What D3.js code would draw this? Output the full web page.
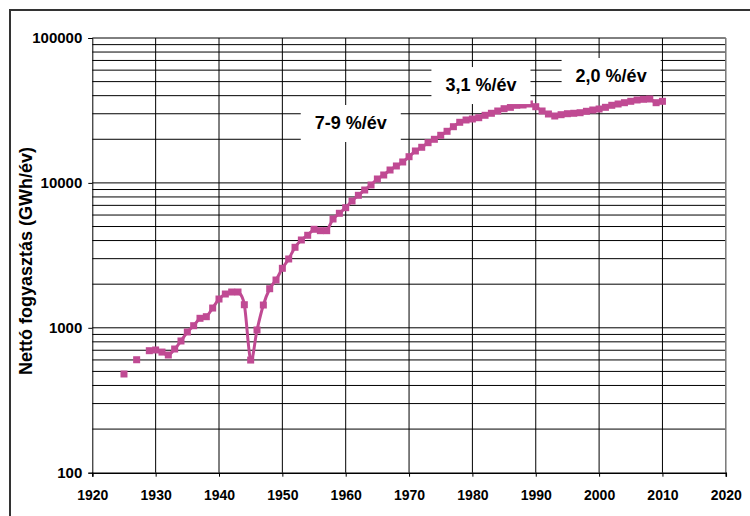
<!DOCTYPE html>
<html>
<head>
<meta charset="utf-8">
<script src="https://cdn.jsdelivr.net/npm/d3@7"></script>
<style>
  body { margin: 0; background: #fff; }
  svg { display: block; }
  text { font-family: Arial, "Liberation Sans", sans-serif; font-weight: bold; fill: #000; }
</style>
</head>
<body>
<svg id="chart" width="750" height="516"></svg>
<script>
// ---- Data ----
const years = [1925,1926,1927,1928,1929,1930,1931,1932,1933,1934,1935,1936,1937,1938,1939,
  1940,1941,1942,1943,1944,1945,1946,1947,1948,1949,1950,1951,1952,1953,1954,1955,1956,1957,1958,1959,
  1960,1961,1962,1963,1964,1965,1966,1967,1968,1969,1970,1971,1972,1973,1974,1975,1976,1977,1978,1979,
  1980,1981,1982,1983,1984,1985,1986,1987,1988,1989,1990,1991,1992,1993,1994,1995,1996,1997,1998,1999,
  2000,2001,2002,2003,2004,2005,2006,2007,2008,2009,2010];
const consumption = [480,null,602,null,695,703,680,649,714,811,936,1034,1163,1193,1369,
  1580,1711,1766,1766,1443,599,966,1436,1861,2137,2574,2985,3594,4036,4350,4785,4680,4680,5636,6170,
  6745,7503,8212,8932,9672,10640,11338,12274,13084,13944,15164,16605,17612,18947,19995,21308,22707,24430,26200,27180,
  27610,28180,29280,30230,31350,32520,33240,34320,34490,35040,33560,31350,29890,28950,29560,30030,30230,30510,31200,31850,
  32360,33240,34320,35040,35770,36570,37340,37760,37940,35770,36570];
const xTicks = [1920,1930,1940,1950,1960,1970,1980,1990,2000,2010,2020];
const yTicks = [100,1000,10000,100000];
const yTitle = "Nettó fogyasztás (GWh/év)";
const rateLabels = [
  {text: "7-9 %/év", year: 1960.8, value: 23550},
  {text: "3,1 %/év", year: 1981.35, value: 43050},
  {text: "2,0 %/év", year: 2001.9, value: 49700}
];

// ---- Layout ----
const svg = d3.select("#chart");
const L = 92.3, R = 725.8, T = 38, B = 472.7;
const x = d3.scaleLinear().domain([1920, 2020]).range([L, R]);
const y = d3.scaleLog().domain([100, 100000]).range([B, T]);
const color = "#C04A93";

// outer frame
svg.append("rect").attr("x", 10).attr("y", 10).attr("width", 760).attr("height", 520)
  .attr("fill", "none").attr("stroke", "#333").attr("stroke-width", 2);

// horizontal grid (minor + major)
const gridVals = [];
for (let d = 100; d < 100000; d *= 10) for (let k = 1; k <= 9; k++) gridVals.push(d * k);
gridVals.push(100000);
svg.append("g").selectAll("line").data(gridVals.filter(v => v > 100)).join("line")
  .attr("x1", L).attr("x2", R).attr("y1", d => y(d)).attr("y2", d => y(d))
  .attr("stroke", "#000").attr("stroke-width", 1);

// vertical grid
svg.append("g").selectAll("line").data(xTicks.filter(v => v > 1920)).join("line")
  .attr("x1", d => x(d)).attr("x2", d => x(d)).attr("y1", T).attr("y2", B)
  .attr("stroke", d => d === 2020 ? "#777" : "#000").attr("stroke-width", d => d === 2020 ? 1.5 : 1);

// axes
const yAxis = d3.axisLeft(y).tickValues(yTicks).tickFormat(d3.format("d")).tickSize(4).tickPadding(6);
const gy = svg.append("g").attr("transform", `translate(${L},0)`).call(yAxis);
gy.select(".domain").attr("stroke", "#000");
gy.selectAll(".tick line").attr("stroke", "#000");
gy.selectAll(".tick text").style("font-size", "15px");

const xAxis = d3.axisBottom(x).tickValues(xTicks).tickFormat(d3.format("d")).tickSize(4).tickPadding(13);
const gx = svg.append("g").attr("transform", `translate(0,${B})`).call(xAxis);
gx.select(".domain").attr("stroke", "#000").attr("stroke-width", 1.5);
gx.selectAll(".tick line").attr("stroke", "#000");
gx.selectAll(".tick text").style("font-size", "14px");

// y title
svg.append("text").attr("transform", `translate(32,261) rotate(-90)`)
  .attr("text-anchor", "middle").style("font-size", "18px").text(yTitle);

// data
const data = years.map((yr, i) => ({year: yr, v: consumption[i]}));
const line = d3.line().defined(d => d.v != null)
  .x(d => x(d.year)).y(d => y(d.v)).curve(d3.curveCatmullRom.alpha(0));
svg.append("path").datum(data.filter(d => d.year >= 1929))
  .attr("d", line).attr("fill", "none").attr("stroke", color).attr("stroke-width", 3);

svg.append("g").selectAll("rect").data(data.filter(d => d.v != null)).join("rect")
  .attr("x", d => x(d.year) - 3.5).attr("y", d => y(d.v) - 3.5)
  .attr("width", 7).attr("height", 7).attr("fill", color);

// rate labels with white boxes
const lg = svg.append("g");
rateLabels.forEach(l => {
  const cx = x(l.year), by = y(l.value);
  const t = lg.append("text").attr("x", cx).attr("y", by).attr("text-anchor", "middle")
    .style("font-size", "18px").text(l.text);
  const bb = t.node().getBBox();
  lg.insert("rect", "text").attr("x", bb.x - 14).attr("y", by - 24)
    .attr("width", bb.width + 28).attr("height", 37).attr("fill", "#fff");
});
</script>
</body>
</html>
